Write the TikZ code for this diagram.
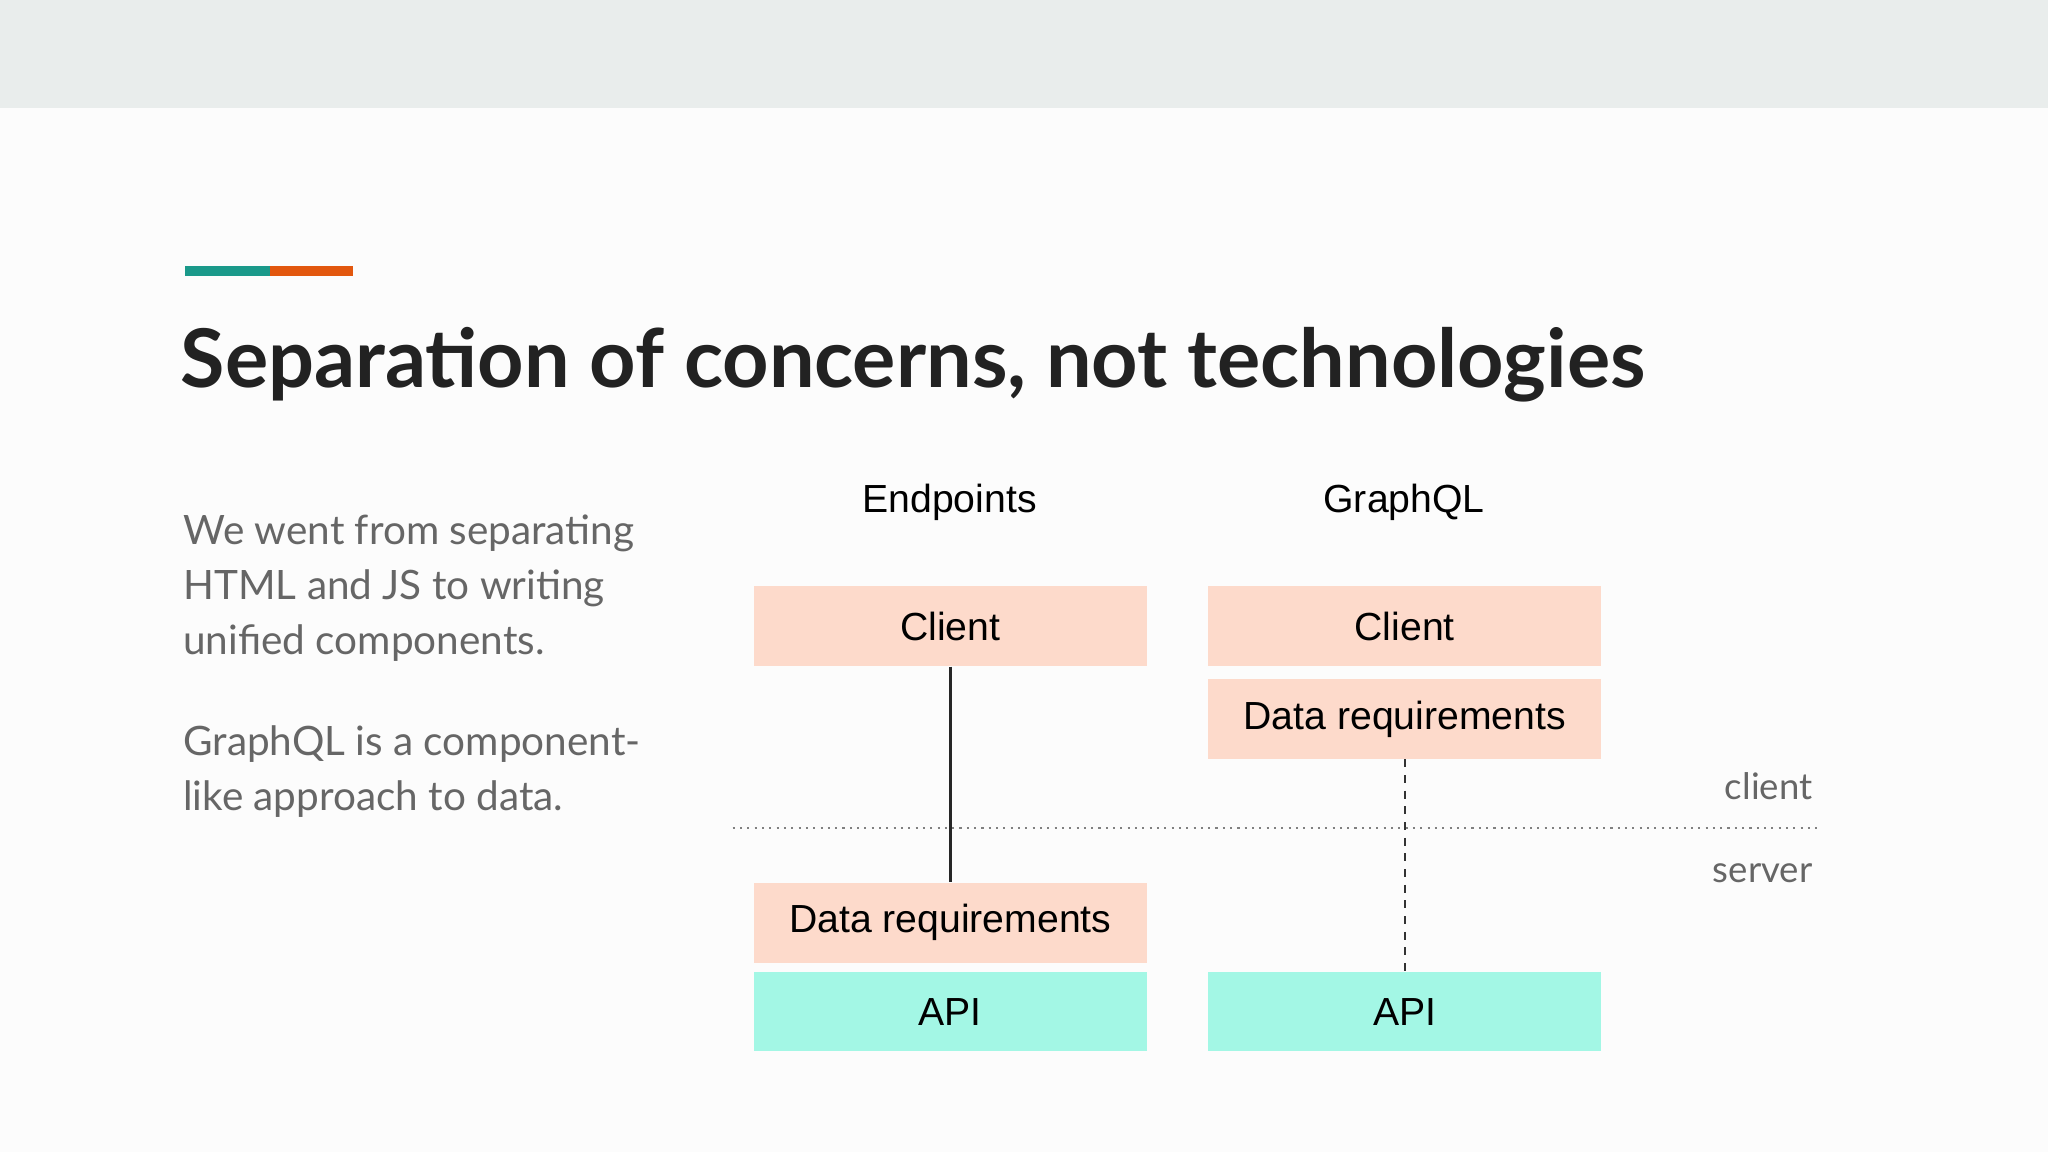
\documentclass[tikz,border=0pt]{standalone}
\usepackage{fontspec}
\setmainfont{Lato}
\newfontfamily\arial{Liberation Sans}
\definecolor{band}{HTML}{E9EDEC}
\definecolor{bg}{HTML}{FCFCFC}
\definecolor{peach}{HTML}{FDDACB}
\definecolor{aqua}{HTML}{A3F7E5}
\definecolor{tealbar}{HTML}{1A998A}
\definecolor{orangebar}{HTML}{E2570E}
\definecolor{txtgray}{HTML}{666666}
\definecolor{titlec}{HTML}{222222}
\tikzset{
  box/.style={minimum width=150.5pt,minimum height=30.5pt,inner sep=0pt,font=\arial\fontsize{15}{18}\selectfont},
  pbox/.style={box,fill=peach},
  abox/.style={box,fill=aqua},
  head/.style={font=\arial\fontsize{15}{18}\selectfont},
  side/.style={font=\fontsize{14}{17}\selectfont,text=txtgray,anchor=base east,inner sep=0pt},
  body/.style={font=\fontsize{15.5}{21}\selectfont,text=txtgray,anchor=north west,inner sep=0pt,align=left}
}
\begin{document}
\begin{tikzpicture}[x=0.5pt,y=-0.5pt]
\fill[bg] (0,0) rectangle (1568,882);
\fill[band] (0,0) rectangle (1568,83);
\fill[tealbar] (142,204) rectangle (207,211);
\fill[orangebar] (207,204) rectangle (270,211);
\node[anchor=base west,inner sep=0pt,text=titlec,font=\bfseries\fontsize{31}{36}\selectfont] (title) at (138,297) {Separation of concerns, not technologies};
\node[body] (p1) at (140,394) {We went from separating\\HTML and JS to writing\\unified components.};
\node[body] (p2) at (140,555) {GraphQL is a component-\\like approach to data.};
\node[head] (h1) at (727,385) {Endpoints};
\node[head] (h2) at (1075,385) {GraphQL};
\node[pbox] (c1) at (727.5,479.5) {Client};
\node[pbox] (d1) at (727.5,706.5) {Data requirements};
\node[abox] (a1) at (727.5,774.5) {API};
\node[pbox] (c2) at (1075.5,479.5) {Client};
\node[pbox] (d2) at (1075.5,550.5) {Data requirements};
\node[abox] (a2) at (1075.5,774.5) {API};
\coordinate (l1) at (561,634);
\coordinate (l2) at (1393,634);
\draw[dotted,thick,gray] (l1) -- (l2);
\draw[line width=1.3pt,black!85] (c1.south) -- (d1.north);
\draw[dashed,black!80,line width=0.6pt] (d2.south) -- (a2.north);
\node[side] (cl) at (1388,612) {client};
\node[side] (sv) at (1388,676) {server};
\end{tikzpicture}
\end{document}
